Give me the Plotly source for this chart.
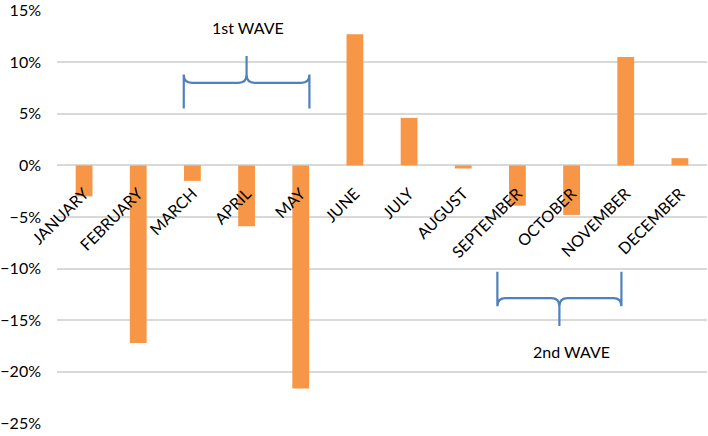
import plotly.graph_objects as go

months = ["JANUARY", "FEBRUARY", "MARCH", "APRIL", "MAY", "JUNE", "JULY",
          "AUGUST", "SEPTEMBER", "OCTOBER", "NOVEMBER", "DECEMBER"]
changes = [-0.030, -0.172, -0.015, -0.059, -0.216, 0.127, 0.046,
           -0.003, -0.039, -0.048, 0.105, 0.007]
y_ticks = [-0.25, -0.20, -0.15, -0.10, -0.05, 0.0, 0.05, 0.10, 0.15]

wave_labels = ["1st WAVE", "2nd WAVE"]

FONT = "Lato"
BLUE = "#4f81bd"

x_idx = list(range(len(months)))

fig = go.Figure()
fig.add_trace(go.Bar(x=x_idx, y=changes, marker_color="#f79646",
                     marker_line_width=0, width=0.31))


def brace(x0, x1, y_tip, y_bar, y_point):
    xc = (x0 + x1) / 2
    dx = 0.15
    sgn = 1 if y_point > y_bar else -1
    dy = 0.008 * sgn
    return (f"M {x0},{y_tip} L {x0},{y_bar + dy} Q {x0},{y_bar} {x0 + dx},{y_bar} "
            f"L {xc - dx},{y_bar} Q {xc},{y_bar} {xc},{y_bar + dy} L {xc},{y_point} "
            f"M {x1},{y_tip} L {x1},{y_bar + dy} Q {x1},{y_bar} {x1 - dx},{y_bar} "
            f"L {xc + dx},{y_bar} Q {xc},{y_bar} {xc},{y_bar + dy}")


fig.add_shape(type="path", xref="x", yref="y",
              path=brace(1.84, 4.16, 0.055, 0.080, 0.106),
              line=dict(color=BLUE, width=2.2))
fig.add_shape(type="path", xref="x", yref="y",
              path=brace(7.63, 9.92, -0.103, -0.1285, -0.1555),
              line=dict(color=BLUE, width=2.2))

fig.add_annotation(x=3.02, y=0.134, xref="x", yref="y", text=wave_labels[0],
                   showarrow=False, font=dict(family=FONT, size=16, color="#000"))
fig.add_annotation(x=8.99, y=-0.180, xref="x", yref="y", text=wave_labels[1],
                   showarrow=False, font=dict(family=FONT, size=16, color="#000"))

fig.update_layout(
    width=708, height=436,
    margin=dict(l=57, r=1, t=10, b=12, autoexpand=False),
    paper_bgcolor="white", plot_bgcolor="white",
    showlegend=False,
    font=dict(family=FONT, size=16, color="#000"),
    xaxis=dict(
        tickmode="array", tickvals=x_idx, ticktext=months,
        range=[-0.5, 11.5], tickangle=-45, showgrid=False, zeroline=False,
        showline=False, anchor="free", position=0.625, automargin=False,
        ticklabelstandoff=15,
        tickfont=dict(family=FONT, size=16, color="#000"),
    ),
    yaxis=dict(
        range=[-0.2505, 0.1505], tickmode="array", tickvals=y_ticks,
        tickformat=".0%", automargin=False, ticklabeloverflow="allow",
        showgrid=True, gridcolor="#d9d9d9", gridwidth=2,
        zeroline=False, showline=False, ticklabelstandoff=15,
        tickfont=dict(family=FONT, size=16, color="#000"),
    ),
)

fig.write_html("out.html", config={"displayModeBar": False},
               post_script="document.body.style.margin='0';")
